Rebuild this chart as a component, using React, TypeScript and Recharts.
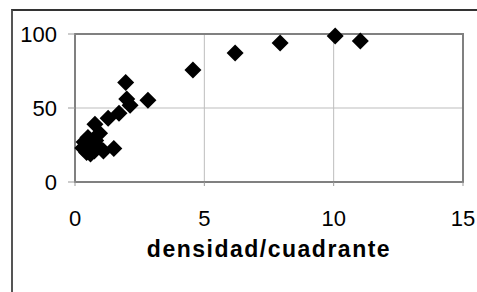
import React from 'react';
import { ScatterChart, Scatter, XAxis, YAxis, CartesianGrid, ReferenceArea } from 'recharts';

const densidad = [11.03, 10.06, 7.93, 6.19, 4.56, 1.96, 2.82, 2.0, 2.13, 1.7, 1.28, 0.77, 0.95, 0.35, 0.3, 0.45, 0.6, 0.75, 0.9, 0.6, 0.8, 0.5, 1.1, 1.5, 0.45, 0.7];
const valor = [95.3, 98.6, 93.9, 87.1, 75.6, 67.3, 55.3, 56, 51.9, 46.4, 43, 39, 33, 27, 23, 20, 19, 21, 24, 26, 28, 30, 21, 22.7, 24, 24];
const xTicks = [0, 5, 10, 15];
const yTicks = [0, 50, 100];
const xTitle = 'densidad/cuadrante';

const data = densidad.map((x, i) => ({ x, y: valor[i] }));

const FONT = '"Liberation Sans", Arial, sans-serif';

const Diamond = (props: any) => {
  const { cx, cy } = props;
  const r = 8.5;
  return <path d={`M${cx},${cy - r}L${cx + r},${cy}L${cx},${cy + r}L${cx - r},${cy}Z`} fill="#000" />;
};

const XTitle = (props: any) => {
  const vb = props.viewBox || {};
  return (
    <text x={vb.x + vb.width / 2} y={vb.y + 75} textAnchor="middle" fontFamily={FONT} fontSize={23} fontWeight="bold" letterSpacing={1.5} fill="#000">
      {xTitle}
    </text>
  );
};

export default function App() {
  return (
    <div style={{ position: 'relative', width: 477, height: 292, overflow: 'hidden', background: '#fff' }}>
      <style>{`html,body{margin:0;padding:0;overflow:hidden;}`}</style>
      <div style={{ position: 'absolute', left: 11, top: 9, width: 500, height: 320, borderLeft: '2px solid #555', borderTop: '2px solid #333', pointerEvents: 'none' }} />
      <ScatterChart width={477} height={292} margin={{ top: 34, right: 14, bottom: 0, left: 0 }} style={{ position: 'absolute', left: 0, top: 0 }}>
        <CartesianGrid stroke="#bdbdbd" strokeWidth={1} />
        <XAxis
          type="number"
          dataKey="x"
          domain={[0, 15]}
          ticks={xTicks}
          height={110}
          tickSize={4}
          tickMargin={24}
          axisLine={{ stroke: '#808080', strokeWidth: 2 }}
          tickLine={{ stroke: '#999' }}
          tick={{ fill: '#000', fontSize: 22, fontFamily: FONT }}
          interval={0}
          label={<XTitle />}
        />
        <YAxis
          type="number"
          dataKey="y"
          domain={[0, 100]}
          ticks={yTicks}
          width={75}
          tickSize={7}
          tickMargin={11}
          axisLine={{ stroke: '#808080', strokeWidth: 2 }}
          tickLine={{ stroke: '#999' }}
          tick={{ fill: '#000', fontSize: 22, fontFamily: FONT }}
          interval={0}
        />
        <ReferenceArea x1={0} x2={15} y1={0} y2={100} fill="none" stroke="#808080" strokeWidth={2} ifOverflow="visible" />
        <Scatter data={data} shape={<Diamond />} isAnimationActive={false} />
      </ScatterChart>
    </div>
  );
}
